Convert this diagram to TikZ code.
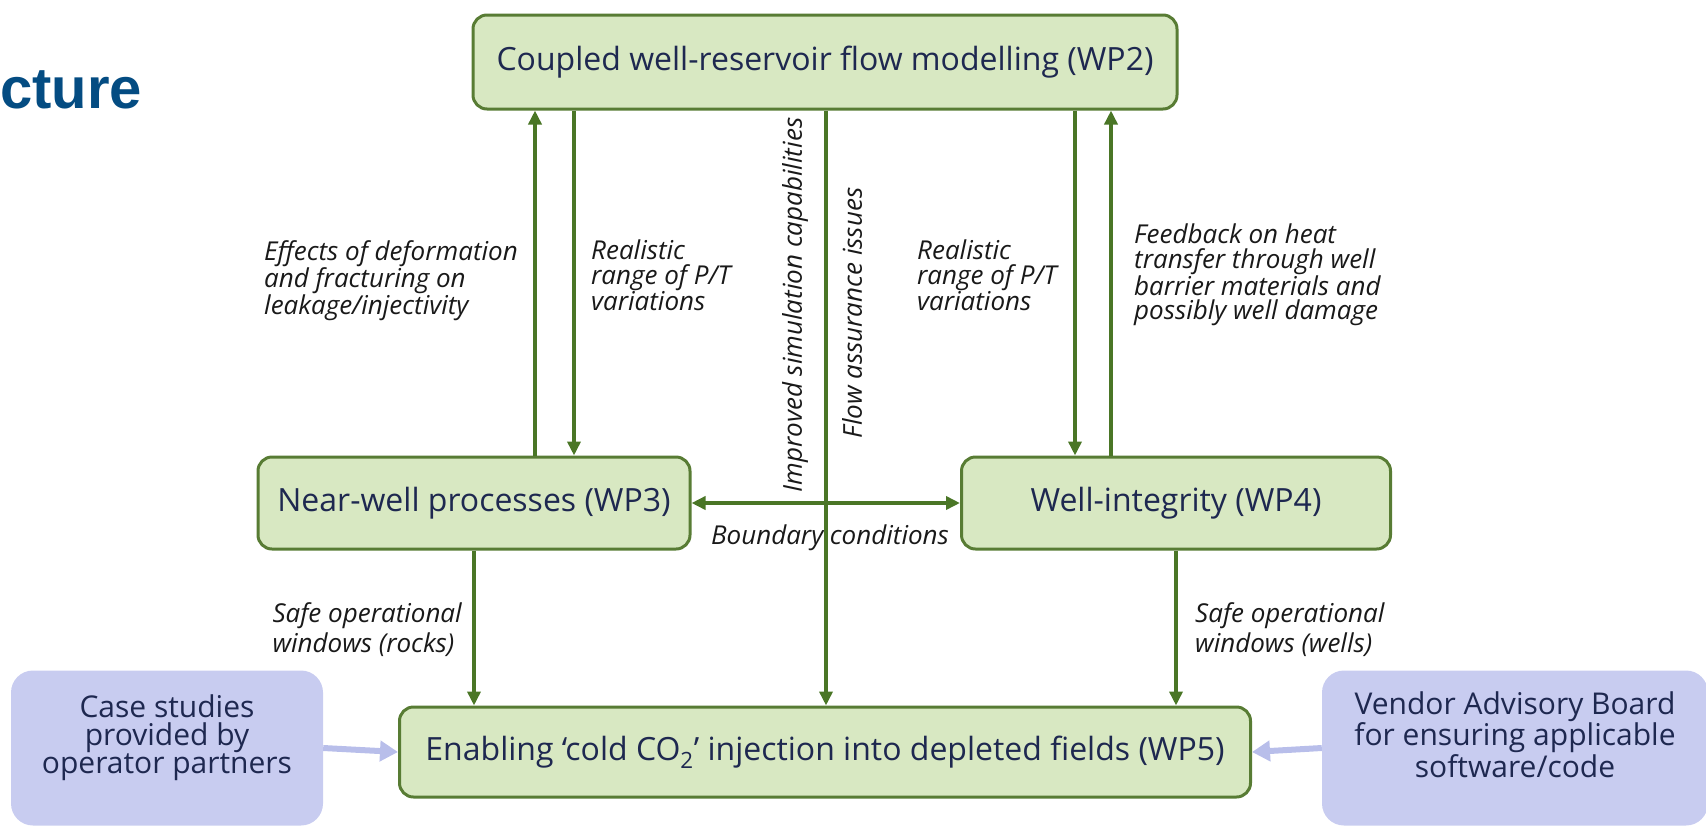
\documentclass[tikz,border=0pt]{standalone}
\usepackage{fontspec}
\setmainfont{Open Sans}
\newfontfamily\titlefont{Liberation Sans}
\usetikzlibrary{arrows.meta,calc}
\definecolor{gline}{RGB}{74,118,38}
\definecolor{gfill}{RGB}{216,232,194}
\definecolor{gborder}{RGB}{88,124,52}
\definecolor{navy}{RGB}{30,40,80}
\definecolor{pfill}{RGB}{200,204,240}
\definecolor{parrow}{RGB}{184,190,234}
\definecolor{titleblue}{RGB}{4,76,130}
\newcommand{\lowpad}{\rule[-27pt]{0pt}{0pt}}
\begin{document}
\begin{tikzpicture}[x=1pt,y=-1pt,
 wpbox/.style={draw=gborder,fill=gfill,line width=3pt,rounded corners=14pt,text=navy,font=\fontsize{32}{36}\selectfont,inner sep=0pt},
 extbox/.style={fill=pfill,rounded corners=22pt,text=navy,font=\fontsize{30}{28}\selectfont,align=center,inner sep=0pt},
 arr/.style={draw=gline,line width=3.5pt,-{Triangle[length=14pt,width=13pt]}},
 darr/.style={draw=gline,line width=3.5pt,{Triangle[length=14pt,width=13pt]}-{Triangle[length=14pt,width=13pt]}},
 parr/.style={draw=parrow,line width=6pt,-{Triangle[length=18pt,width=20pt]}},
 lbl/.style={font=\fontsize{26}{24.5}\selectfont\itshape,inner sep=0pt,text=black!90},
 lbls/.style={lbl,font=\fontsize{26}{30}\selectfont\itshape}]
\useasboundingbox (0,0) rectangle (1706,828);
\node[anchor=base west,font=\titlefont\bfseries\fontsize{58}{60}\selectfont,text=titleblue,inner sep=0pt] (title) at (0,108) {cture};
% boxes
\node[wpbox,minimum width=704pt,minimum height=94pt] (wp2) at (825,62) {Coupled well-reservoir flow modelling (WP2)};
\node[wpbox,minimum width=432pt,minimum height=92pt] (wp3) at (474,503) {Near-well processes (WP3)};
\node[wpbox,minimum width=429pt,minimum height=92pt] (wp4) at (1176,503) {Well-integrity (WP4)};
\node[wpbox,minimum width=851pt,minimum height=90pt] (wp5) at (825,752) {Enabling ‘cold CO\textsubscript{2}’ injection into depleted fields (WP5)};
\node[extbox,minimum width=312pt,minimum height=155pt] (case) at (167,748) {Case studies\\provided by\\operator partners\lowpad};
\node[extbox,minimum width=386pt,minimum height=155pt] (vendor) at (1515,748) {Vendor Advisory Board\\for ensuring applicable\\software/code\lowpad};
% labels
\node[lbl,anchor=north west,align=left] (l1) at (264,240) {Effects of deformation\\and fracturing on\\leakage/injectivity};
\node[lbl,anchor=north west,align=left] (l2) at (591,240) {Realistic\\range of P/T\\variations};
\node[lbl,anchor=north west,align=left] (l3) at (917,240) {Realistic\\range of P/T\\variations};
\node[lbl,anchor=north west,align=left] (l4) at (1134,224) {Feedback on heat\\transfer through well\\barrier materials and\\possibly well damage};
\node[lbl,rotate=90] (l5) at (795,305) {Improved simulation capabilities};
\node[lbl,rotate=90] (l6) at (852,313) {Flow assurance issues};
\node[lbl] (l7) at (830,538) {Boundary conditions};
\node[lbls,anchor=north east,align=left] (l8) at (462,602) {Safe operational\\windows (rocks)};
\node[lbls,anchor=north west,align=left] (l9) at (1195,602) {Safe operational\\windows (wells)};
% x positions
\coordinate (xa) at (535,0);
\coordinate (xb) at (574,0);
\coordinate (xc) at (826,0);
\coordinate (xd) at (1075,0);
\coordinate (xe) at (1111,0);
\coordinate (xf) at (474,0);
\coordinate (xg) at (1176,0);
% connectors
\draw[arr] (wp3.north -| xa) -- (wp2.south -| xa);
\draw[arr] (wp2.south -| xb) -- (wp3.north -| xb);
\draw[arr] (wp2.south -| xd) -- (wp4.north -| xd);
\draw[arr] (wp4.north -| xe) -- (wp2.south -| xe);
\draw[arr] (wp3.south -| xf) -- (wp5.north -| xf);
\draw[arr] (wp4.south -| xg) -- (wp5.north -| xg);
\draw[darr] (wp3.east) -- (wp4.west);
\draw[arr] (wp2.south -| xc) -- (wp5.north -| xc);
\draw[parr] (case.east) -- (wp5.west);
\draw[parr] (vendor.west) -- (wp5.east);
\end{tikzpicture}
\end{document}
